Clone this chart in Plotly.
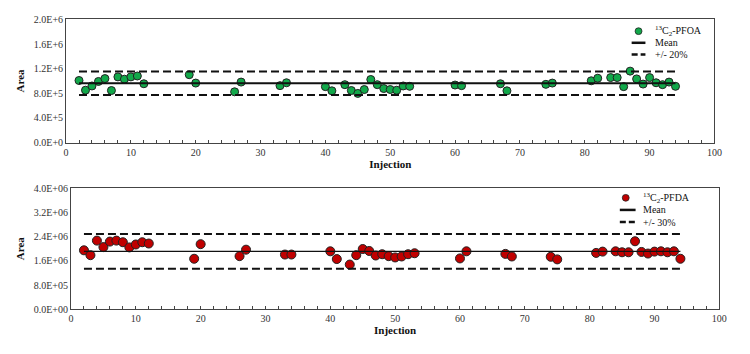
import plotly.graph_objects as go

# ---- data ----
inj_pfoa = [2,3,4,5,6,7,8,9,10,11,12,19,20,26,27,33,34,40,41,43,44,45,46,47,48,49,50,51,52,53,
            60,61,67,68,74,75,81,82,84,85,86,87,88,89,90,91,92,93,94]
area_pfoa = [1.008e6,0.850e6,0.919e6,0.992e6,1.039e6,0.845e6,1.066e6,1.029e6,1.066e6,1.081e6,0.955e6,
             1.102e6,0.966e6,0.824e6,0.982e6,0.924e6,0.971e6,0.908e6,0.840e6,0.940e6,0.845e6,0.798e6,
             0.861e6,1.024e6,0.940e6,0.877e6,0.861e6,0.850e6,0.919e6,0.913e6,0.934e6,0.924e6,0.955e6,
             0.840e6,0.945e6,0.966e6,1.003e6,1.045e6,1.055e6,1.055e6,0.908e6,1.160e6,1.034e6,0.950e6,
             1.055e6,0.971e6,0.940e6,0.982e6,0.913e6]
mean_pfoa = 0.963e6
tol_pfoa = 0.20

inj_pfda = [2,3,4,5,6,7,8,9,10,11,12,19,20,26,27,33,34,40,41,43,44,45,46,47,48,49,50,51,52,53,
            60,61,67,68,74,75,81,82,84,85,86,87,88,89,90,91,92,93,94]
area_pfda = [1.947e6,1.786e6,2.267e6,2.053e6,2.235e6,2.267e6,2.214e6,2.043e6,2.139e6,2.214e6,2.171e6,
             1.668e6,2.150e6,1.754e6,1.968e6,1.807e6,1.807e6,1.914e6,1.658e6,1.476e6,1.786e6,1.989e6,
             1.925e6,1.775e6,1.818e6,1.754e6,1.711e6,1.743e6,1.818e6,1.850e6,1.679e6,1.914e6,1.829e6,
             1.743e6,1.733e6,1.647e6,1.861e6,1.904e6,1.914e6,1.882e6,1.882e6,2.246e6,1.893e6,1.840e6,
             1.904e6,1.914e6,1.882e6,1.914e6,1.668e6]
mean_pfda = 1.91e6
tol_pfda = 0.30

line_x = [2, 94]

ytick_top_vals = [0, 4e5, 8e5, 1.2e6, 1.6e6, 2.0e6]
ytick_top_text = ["0.0E+0", "4.0E+5", "8.0E+5", "1.2E+6", "1.6E+6", "2.0E+6"]
ytick_bot_vals = [0, 8e5, 1.6e6, 2.4e6, 3.2e6, 4.0e6]
ytick_bot_text = ["0.0E+00", "8.0E+05", "1.6E+06", "2.4E+06", "3.2E+06", "4.0E+06"]
xtick_vals = [0, 10, 20, 30, 40, 50, 60, 70, 80, 90, 100]

name_pfoa = "<sup>13</sup>C<sub>2</sub>-PFOA"
name_pfda = "<sup>13</sup>C<sub>2</sub>-PFDA"

FONT = "Liberation Serif"
green = "#12a84a"
red = "#c00000"
W, H = 750, 354

fig = go.Figure()

def add_panel(xs, ys, mean, tol, color, msize, mean_w, xa, ya):
    fig.add_trace(go.Scatter(x=xs, y=ys, mode="markers", showlegend=False,
                             marker=dict(color=color, size=msize, line=dict(color="#222", width=1)),
                             xaxis=xa, yaxis=ya))
    fig.add_trace(go.Scatter(x=line_x, y=[mean, mean], mode="lines", showlegend=False,
                             line=dict(color="#111", width=mean_w), xaxis=xa, yaxis=ya))
    for f in (1 + tol, 1 - tol):
        fig.add_trace(go.Scatter(x=line_x, y=[mean * f] * 2, mode="lines", showlegend=False,
                                 line=dict(color="#111", width=2, dash="8px,4px"), xaxis=xa, yaxis=ya))

add_panel(inj_pfoa, area_pfoa, mean_pfoa, tol_pfoa, green, 8, 2, "x", "y")
add_panel(inj_pfda, area_pfda, mean_pfda, tol_pfda, red, 9, 1.2, "x2", "y2")

# ---- legends drawn in paper coordinates ----
def px(x): return x / W
def py(y): return 1 - y / H

shapes = []
annos = []
def legend(mx, my, lx0, lx1, tx, y0, dy, color, labels):
    r = 3.5
    shapes.append(dict(type="circle", xref="paper", yref="paper",
                       x0=px(mx - r), x1=px(mx + r), y0=py(my + r), y1=py(my - r),
                       fillcolor=color, line=dict(color="#222", width=0.8)))
    shapes.append(dict(type="line", xref="paper", yref="paper",
                       x0=px(lx0), x1=px(lx1), y0=py(y0 + dy), y1=py(y0 + dy),
                       line=dict(color="#111", width=2.5)))
    shapes.append(dict(type="line", xref="paper", yref="paper",
                       x0=px(lx0), x1=px(lx1), y0=py(y0 + 2 * dy), y1=py(y0 + 2 * dy),
                       line=dict(color="#111", width=2.5, dash="6px,3px")))
    for i, t in enumerate(labels):
        annos.append(dict(x=px(tx), y=py(y0 + i * dy), xref="paper", yref="paper", text=t,
                          showarrow=False, xanchor="left", yanchor="middle",
                          font=dict(family=FONT, size=10, color="#111")))

legend(645, 27, 638, 652, 660, 27, 12, green, [name_pfoa, "Mean", "+/- 20%"])
legend(632, 199, 626, 642, 647, 199, 12.5, red, [name_pfda, "Mean", "+/- 30%"])

axis_common = dict(showline=True, linecolor="#444", linewidth=1, mirror=True, showgrid=False,
                   zeroline=False, tickfont=dict(family=FONT, size=10, color="#333"))
xcommon = dict(axis_common, range=[0, 100], tickvals=xtick_vals,
               ticks="inside", ticklen=3, tickcolor="#444",
               minor=dict(dtick=2, ticks="inside", ticklen=3, tickcolor="#444"),
               title=dict(text="<b>Injection</b>", font=dict(family=FONT, size=11, color="#111"), standoff=2))
ytitle = dict(text="<b>Area</b>", font=dict(family=FONT, size=11, color="#111"), standoff=6)

fig.update_layout(
    width=W, height=H, margin=dict(l=0, r=0, t=0, b=0),
    paper_bgcolor="white", plot_bgcolor="white", showlegend=False,
    xaxis=dict(xcommon, domain=[0.0853, 0.9627], anchor="y"),
    yaxis=dict(axis_common, domain=[0.599, 0.958], range=[0, 2.0e6], anchor="x",
               tickvals=ytick_top_vals, ticktext=ytick_top_text, ticks="", title=ytitle),
    xaxis2=dict(xcommon, domain=[0.092, 0.9693], anchor="y2"),
    yaxis2=dict(axis_common, domain=[0.113, 0.466], range=[0, 4.0e6], anchor="x2",
                tickvals=ytick_bot_vals, ticktext=ytick_bot_text, ticks="", title=ytitle),
    shapes=shapes, annotations=annos,
)

fig.write_html("out.html")
